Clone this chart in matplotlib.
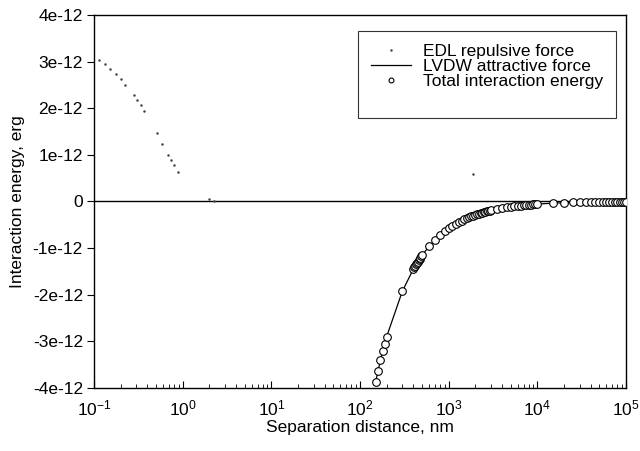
"""
Energia de interacao DLVO: repulsao EDL, atracao LVDW e energia total
em funcao da distancia de separacao (escala log).
Saida: out.png
"""

import matplotlib
matplotlib.use("Agg")
import matplotlib.pyplot as plt
from matplotlib.lines import Line2D
from matplotlib.ticker import FixedLocator, FuncFormatter, LogLocator

plt.rcParams["font.family"] = ["Liberation Sans", "DejaVu Sans"]
plt.rcParams["mathtext.fontset"] = "custom"
plt.rcParams["mathtext.rm"] = "Liberation Sans"

# EDL (repulsao) - distancia em nm, energia em 1e-12 erg
edl_dist = [0.115, 0.133, 0.151, 0.176, 0.200, 0.225, 0.283, 0.308, 0.336, 0.369,
            0.509, 0.589, 0.689, 0.738, 0.805, 0.885, 1.98, 2.26, 1860]
edl_energy = [3.03, 2.94, 2.83, 2.73, 2.63, 2.50, 2.28, 2.17, 2.06, 1.93,
              1.47, 1.23, 1.00, 0.886, 0.77, 0.64, 0.05, 0.006, 0.594]

# Energia total (= LVDW nessa faixa) - distancia em nm
tot_dist = [150, 160, 170, 180, 190, 200, 300,
            400, 410, 420, 430, 440, 450, 460, 470, 480, 490, 500,
            600, 700, 800, 900,
            1000, 1100, 1200, 1300, 1400, 1500, 1600, 1700, 1800, 1900, 2000,
            2100, 2200, 2300, 2400, 2500, 2600, 2700, 2800, 2900, 3000,
            3500, 4000, 4500, 5000, 5500, 6000, 6500, 7000, 7500, 8000,
            8500, 9000, 9500, 10000,
            15000, 20000, 25000, 30000, 35000, 40000, 45000, 50000, 55000,
            60000, 65000, 70000, 75000, 80000, 85000, 90000, 95000, 100000]
tot_energy = [-3.87, -3.63, -3.41, -3.22, -3.05, -2.90, -1.93,
              -1.45, -1.41, -1.38, -1.35, -1.32, -1.29, -1.26, -1.23, -1.21, -1.18, -1.16,
              -0.967, -0.829, -0.725, -0.644,
              -0.580, -0.527, -0.483, -0.446, -0.414, -0.387, -0.363, -0.341, -0.322, -0.305, -0.290,
              -0.276, -0.264, -0.252, -0.242, -0.232, -0.223, -0.215, -0.207, -0.200, -0.193,
              -0.166, -0.145, -0.129, -0.116, -0.105, -0.097, -0.089, -0.083, -0.077, -0.073,
              -0.068, -0.064, -0.061, -0.058,
              -0.039, -0.029, -0.023, -0.019, -0.017, -0.015, -0.013, -0.012, -0.011,
              -0.010, -0.009, -0.008, -0.008, -0.007, -0.007, -0.006, -0.006, -0.006]

Y_TICKS = [-4, -3, -2, -1, 0, 1, 2, 3, 4]
FS = 12.5


def ylab(v, pos):
    v = int(round(v))
    return "0" if v == 0 else f"{v}e-12"


def main():
    fig = plt.figure(figsize=(6.4, 4.51), dpi=100)
    ax = fig.add_axes([0.147, 0.140, 0.831, 0.827])

    ax.axhline(0, color="black", linewidth=1.0, zorder=1)
    ax.plot(edl_dist, edl_energy, linestyle="none", marker=".", markersize=1.6,
            color="#444444", label="EDL repulsive force", zorder=2)
    ax.plot(tot_dist, tot_energy, color="black", linewidth=0.9,
            label="LVDW attractive force", zorder=3)
    ax.plot(tot_dist, tot_energy, linestyle="none", marker="o", markersize=5.5,
            markerfacecolor="white", markeredgecolor="black", markeredgewidth=0.8,
            label="Total interaction energy", zorder=4)

    ax.set_xscale("log")
    ax.set_xlim(0.1, 1e5)
    ax.set_ylim(-4, 4)
    ax.xaxis.set_major_locator(LogLocator(base=10, numticks=10))
    ax.xaxis.set_minor_locator(LogLocator(base=10, subs=range(2, 10), numticks=10))
    ax.yaxis.set_major_locator(FixedLocator(Y_TICKS))
    ax.yaxis.set_major_formatter(FuncFormatter(ylab))

    ax.tick_params(axis="x", which="major", direction="in", length=5, width=0.8,
                   labelsize=FS, pad=8)
    ax.tick_params(axis="x", which="minor", direction="in", length=3, width=0.6)
    ax.tick_params(axis="y", which="major", direction="out", length=5, width=0.8,
                   labelsize=FS, pad=3)
    for s in ("top", "right", "left", "bottom"):
        ax.spines[s].set_color("black")
        ax.spines[s].set_linewidth(1.0)

    ax.set_xlabel("Separation distance, nm", fontsize=FS, labelpad=1)
    ax.set_ylabel("Interaction energy, erg", fontsize=FS)
    ax.yaxis.set_label_coords(-0.13, 0.5)

    # quarta linha vazia na legenda (reserva de espaco no quadro)
    handles, labels = ax.get_legend_handles_labels()
    handles.append(Line2D([], [], linestyle="none", marker="none"))
    labels.append(" ")
    leg = ax.legend(handles, labels, loc="upper right", bbox_to_anchor=(0.981, 0.957),
                    fontsize=FS, frameon=True, fancybox=False, edgecolor="black",
                    handlelength=2.3, borderpad=0.75, labelspacing=0.0,
                    handletextpad=0.7, borderaxespad=0.0)
    leg.get_frame().set_linewidth(0.8)
    for h in leg.legend_handles:
        if h.get_marker() == "o":
            h.set_markersize(3.5)

    fig.savefig("out.png", dpi=100)
    plt.close(fig)


if __name__ == "__main__":
    main()
